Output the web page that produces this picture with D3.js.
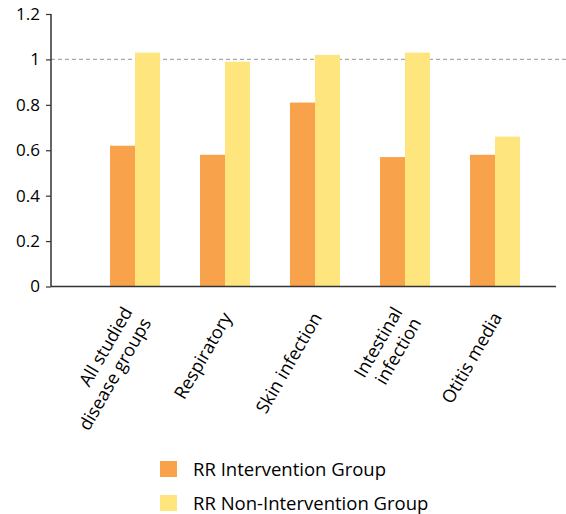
<!DOCTYPE html>
<html>
<head>
<meta charset="utf-8">
<script src="https://cdn.jsdelivr.net/npm/d3@7"></script>
<style>
  html, body { margin: 0; padding: 0; background: #fff; }
  svg { display: block; font-family: "Open Sans", "Noto Sans", sans-serif; }
</style>
</head>
<body>
<svg id="chart" width="566" height="514"></svg>
<script>
// Relative risk by disease group
const categories = [
  ["All studied", "disease groups"],
  ["Respiratory"],
  ["Skin infection"],
  ["Intestinal", "infection"],
  ["Otitis media"]
];
const seriesNames = ["RR Intervention Group", "RR Non-Intervention Group"];
const interventionRR = [0.62, 0.58, 0.81, 0.57, 0.58];
const nonInterventionRR = [1.03, 0.99, 1.02, 1.03, 0.66];
const yTicks = [0, 0.2, 0.4, 0.6, 0.8, 1, 1.2];
const colors = ["#F8A34C", "#FEE57E"];

const svg = d3.select("#chart");
const catKeys = categories.map(c => c.join(" "));
const series = [interventionRR, nonInterventionRR];

const y = d3.scaleLinear().domain([0, 1.2]).range([286.5, 14]);
const x = d3.scaleBand().domain(catKeys).range([90, 540]);
const xSub = d3.scaleBand().domain(seriesNames).range([20, 70]);

// reference line at RR = 1
svg.append("line")
  .attr("x1", 51).attr("x2", 566)
  .attr("y1", y(1)).attr("y2", y(1))
  .attr("stroke", "#aaa").attr("stroke-width", 1.2)
  .attr("stroke-dasharray", "4,3");

// bars
const groups = svg.append("g").selectAll("g")
  .data(catKeys)
  .join("g")
  .attr("transform", d => `translate(${x(d)},0)`);

groups.selectAll("rect")
  .data((d, i) => seriesNames.map((s, j) => ({ s, j, v: series[j][i] })))
  .join("rect")
  .attr("x", d => xSub(d.s))
  .attr("width", xSub.bandwidth())
  .attr("y", d => y(d.v))
  .attr("height", d => y(0) - y(d.v))
  .attr("fill", d => colors[d.j]);

// y axis
const yAxis = svg.append("g")
  .attr("transform", "translate(51,0)")
  .call(d3.axisLeft(y).tickValues(yTicks).tickSize(5).tickPadding(6)
    .tickFormat(d3.format("")));
yAxis.select(".domain").attr("stroke", "#333").attr("stroke-width", 1.5)
  .attr("d", `M0,${y(1.2)}V${y(0)}`);
yAxis.selectAll(".tick line").attr("stroke", "#333").attr("stroke-width", 1.2);
yAxis.selectAll(".tick text").attr("fill", "#000").style("font-size", "17px")
  .style("font-family", '"Open Sans", "Noto Sans", sans-serif');

// x baseline
svg.append("line")
  .attr("x1", 51).attr("x2", 556)
  .attr("y1", y(0)).attr("y2", y(0))
  .attr("stroke", "#333").attr("stroke-width", 1.5);

// category labels, rotated
const lab = svg.append("g").selectAll("text")
  .data(categories)
  .join("text")
  .attr("text-anchor", "end")
  .attr("font-size", 18)
  .attr("fill", "#000")
  .attr("transform", (d, i) => `translate(${x(catKeys[i]) + x.bandwidth() / 2 + 2},314) rotate(-60)`);
lab.each(function(lines) {
  const t = d3.select(this);
  const n = lines.length;
  lines.forEach((ln, k) => {
    t.append("tspan")
      .attr("x", 0)
      .attr("y", 0)
      .attr("dy", ((k - (n - 1) / 2) * 1.2 + 0.35) + "em")
      .text(ln);
  });
});

// legend
const legend = svg.append("g").selectAll("g")
  .data(seriesNames)
  .join("g")
  .attr("transform", (d, i) => `translate(160,${461 + i * 34})`);
legend.append("rect")
  .attr("width", 17).attr("height", 16)
  .attr("fill", (d, i) => colors[i]);
legend.append("text")
  .attr("x", 33).attr("y", 14.5)
  .attr("font-size", 18.5)
  .attr("fill", "#000")
  .text(d => d);
</script>
</body>
</html>
